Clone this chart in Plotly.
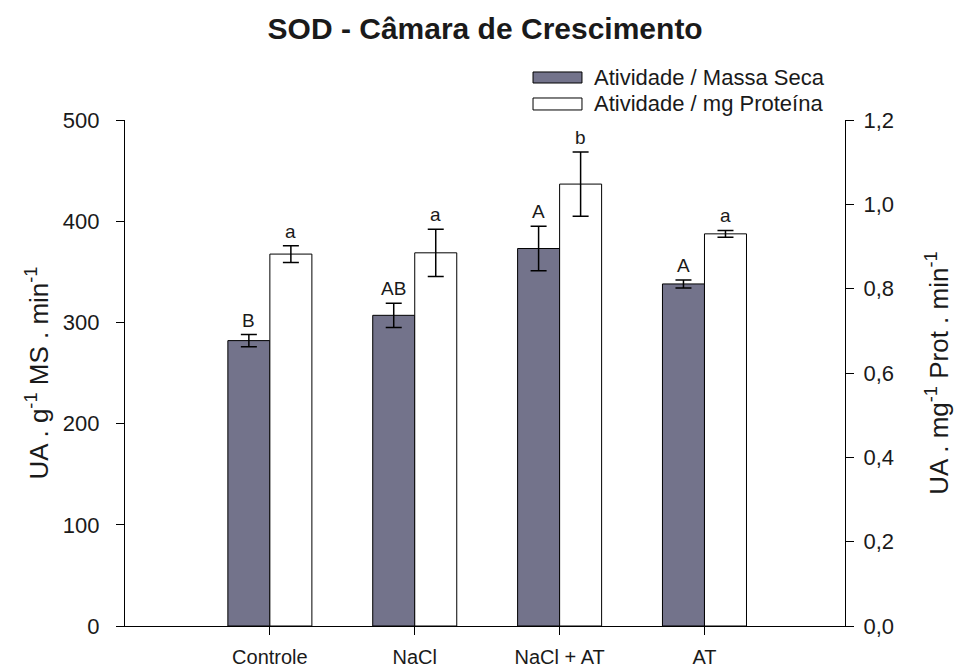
import plotly.graph_objects as go

categories = ["Controle", "NaCl", "NaCl + AT", "AT"]
massa_seca = [282, 307, 373, 338]
massa_seca_err = [6, 12, 22, 4]
massa_seca_letters = ["B", "AB", "A", "A"]
proteina = [0.882, 0.885, 1.048, 0.930]
proteina_err = [0.020, 0.056, 0.076, 0.008]
proteina_letters = ["a", "a", "b", "a"]
left_ticks = [0, 100, 200, 300, 400, 500]
right_ticks = [0.0, 0.2, 0.4, 0.6, 0.8, 1.0, 1.2]

FONT = "Liberation Sans, Arial, sans-serif"
GRAY = "#73738b"
TXT = "#1a1a1a"

fig = go.Figure()
fig.add_trace(go.Bar(
    x=categories, y=massa_seca, name="Atividade / Massa Seca",
    marker=dict(color=GRAY, line=dict(color="black", width=1)),
    error_y=dict(type="data", array=massa_seca_err, color="black", thickness=1.5, width=8),
    offsetgroup="1", yaxis="y", showlegend=False,
))
fig.add_trace(go.Bar(
    x=categories, y=proteina, name="Atividade / mg Proteína",
    marker=dict(color="white", line=dict(color="black", width=1)),
    error_y=dict(type="data", array=proteina_err, color="black", thickness=1.5, width=8),
    offsetgroup="2", yaxis="y2", showlegend=False,
))

annotations = []
for i, c in enumerate(categories):
    annotations.append(dict(
        x=c, y=massa_seca[i] + massa_seca_err[i], xref="x", yref="y",
        text=massa_seca_letters[i], showarrow=False, xanchor="center", yanchor="bottom",
        xshift=-21, yshift=2, font=dict(size=19, color=TXT, family=FONT),
    ))
    annotations.append(dict(
        x=c, y=proteina[i] + proteina_err[i], xref="x", yref="y2",
        text=proteina_letters[i], showarrow=False, xanchor="center", yanchor="bottom",
        xshift=21, yshift=2, font=dict(size=19, color=TXT, family=FONT),
    ))

# manual legend
legend_items = [("Atividade / Massa Seca", GRAY), ("Atividade / mg Proteína", "white")]
legend_rows = [(1.0731, 1.0949), (1.0198, 1.0435)]
shapes = []
for (label, col), (y0, y1) in zip(legend_items, legend_rows):
    shapes.append(dict(type="rect", xref="paper", yref="paper", x0=0.5667, x1=0.6347,
                       y0=y0, y1=y1, fillcolor=col, line=dict(color="black", width=1)))
    annotations.append(dict(x=0.648, y=(y0 + y1) / 2, xref="paper", yref="paper",
                            text=label, showarrow=False, xanchor="left", yanchor="middle",
                            font=dict(size=22, color=TXT, family=FONT)))

fig.update_layout(
    width=955, height=667,
    margin=dict(l=125, r=110, t=120, b=41, autoexpand=False),
    paper_bgcolor="white", plot_bgcolor="white",
    separators=",.",
    barmode="group", bargap=0.42, bargroupgap=0,
    title=dict(text="<b>SOD - Câmara de Crescimento</b>", x=0.508, xanchor="center",
               y=0.957, yanchor="middle", font=dict(size=30, color=TXT, family=FONT)),
    font=dict(family=FONT, color=TXT),
    xaxis=dict(range=[-1, 3.97], showline=True, linecolor="black", linewidth=1.2,
               ticks="outside", ticklen=8, tickcolor="black", showgrid=False, automargin=False,
               tickfont=dict(size=20, family=FONT), ticklabelstandoff=5, zeroline=False),
    yaxis=dict(range=[0, 500], tickvals=left_ticks, showline=True, linecolor="black",
               linewidth=1.2, ticks="outside", ticklen=8, tickcolor="black", showgrid=False,
               zeroline=False, tickfont=dict(size=22, family=FONT), ticklabelstandoff=12,
               automargin=False,
               title=dict(text="UA . g<sup>-1</sup> MS . min<sup>-1</sup>",
                          font=dict(size=26, family=FONT), standoff=6)),
    yaxis2=dict(range=[0, 1.2], tickvals=right_ticks, tickformat=".1f", overlaying="y",
                side="right", showline=True, linecolor="black", linewidth=1.2,
                ticks="outside", ticklen=8, tickcolor="black", showgrid=False, zeroline=False,
                tickfont=dict(size=22, family=FONT), ticklabelstandoff=5, automargin=False,
                title=dict(text="UA . mg<sup>-1</sup> Prot . min<sup>-1</sup>",
                           font=dict(size=26, family=FONT), standoff=36)),
    annotations=annotations,
    shapes=shapes,
)

fig.write_html("out.html", config={"displayModeBar": False},
               post_script="document.body.style.margin='0';document.body.style.overflow='hidden';")
